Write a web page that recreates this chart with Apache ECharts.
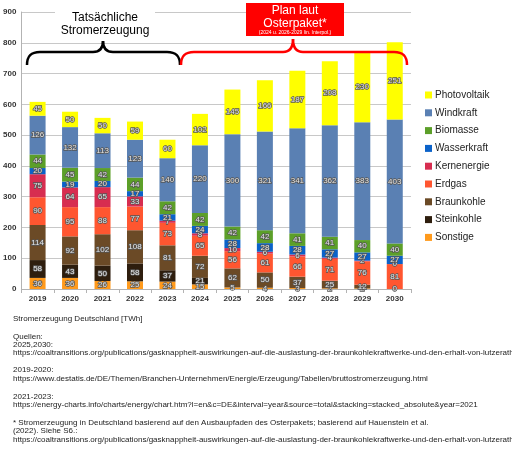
<!DOCTYPE html>
<html>
<head>
<meta charset="utf-8">
<script src="https://cdn.jsdelivr.net/npm/echarts@6/dist/echarts.min.js"></script>
<style>
html,body{margin:0;padding:0;background:#fff;}
#chart{width:512px;height:449px;}
</style>
</head>
<body>
<div id="chart"></div>
<script>
var years = ['2019','2020','2021','2022','2023','2024','2025','2026','2027','2028','2029','2030'];
var sonstige     = [36, 36, 26, 25, 24, 15, 5, 4, 3, 2, 2, 0];
var steinkohle   = [58, 43, 50, 58, 37, 21, null, null, null, null, null, null];
var braunkohle   = [114, 92, 102, 108, 81, 72, 62, 50, 37, 25, 12, null];
var erdgas       = [90, 95, 88, 77, 73, 65, 56, 61, 66, 71, 76, 81];
var kernenergie  = [75, 64, 65, 33, 7, 8, 10, 6, 6, 4, 2, 0];
var wasserkraft  = [20, 19, 20, 17, 21, 24, 28, 28, 28, 27, 27, 27];
var biomasse     = [44, 45, 42, 44, 42, 42, 42, 42, 41, 41, 40, 40];
var windkraft    = [126, 132, 113, 123, 140, 220, 300, 321, 341, 362, 383, 403];
var photovoltaik = [45, 50, 50, 59, 60, 102, 145, 166, 187, 208, 230, 251];
var yTicks = {min: 0, max: 900, interval: 100};

var seriesDefs = [
  {name: 'Sonstige', data: sonstige, color: '#ff9a1c'},
  {name: 'Steinkohle', data: steinkohle, color: '#2e1e0e'},
  {name: 'Braunkohle', data: braunkohle, color: '#6b4a26'},
  {name: 'Erdgas', data: erdgas, color: '#ff5630'},
  {name: 'Kernenergie', data: kernenergie, color: '#d72d50'},
  {name: 'Wasserkraft', data: wasserkraft, color: '#0b62c9'},
  {name: 'Biomasse', data: biomasse, color: '#5c9f29'},
  {name: 'Windkraft', data: windkraft, color: '#5a80b3'},
  {name: 'Photovoltaik', data: photovoltaik, color: '#ffff00'}
];

var FONT = '"Liberation Sans", Arial, sans-serif';

var series = seriesDefs.map(function (s) {
  return {
    name: s.name,
    type: 'bar',
    stack: 'total',
    barWidth: 16,
    data: s.data,
    itemStyle: {color: s.color},
    label: {
      show: true,
      position: 'inside',
      fontSize: 8,
      fontFamily: FONT,
      color: '#e6e6e6',
      textBorderColor: '#555555',
      textBorderWidth: 1.5,
      formatter: function (p) { return p.value == null ? '' : String(p.value); }
    },
    emphasis: {disabled: true}
  };
});

var footLines = [
  ['Stromerzeugung Deutschland [TWh]', 319],
  ['Quellen:', 337],
  ['2025,2030:', 345],
  ['https://coaltransitions.org/publications/gasknappheit-auswirkungen-auf-die-auslastung-der-braunkohlekraftwerke-und-den-erhalt-von-lutzerath', 353],
  ['2019-2020:', 370],
  ['https://www.destatis.de/DE/Themen/Branchen-Unternehmen/Energie/Erzeugung/Tabellen/bruttostromerzeugung.html', 379],
  ['2021-2023:', 397],
  ['https://energy-charts.info/charts/energy/chart.htm?l=en&c=DE&interval=year&source=total&stacking=stacked_absolute&year=2021', 405],
  ['* Stromerzeugung in Deutschland basierend auf den Ausbaupfaden des Osterpakets; basierend auf Hauenstein et al.', 423],
  ['(2022). Siehe S6.:', 431],
  ['https://coaltransitions.org/publications/gasknappheit-auswirkungen-auf-die-auslastung-der-braunkohlekraftwerke-und-den-erhalt-von-lutzerath', 440]
];

var graphics = [];
function brace(x0, x1, xp, yBase, yLine, yPeak, color) {
  var st = {fill: null, stroke: color, lineWidth: 2.5};
  var r = 13;
  graphics.push({type: 'bezierCurve', z: 52, shape: {x1: x0, y1: yBase, x2: x0 + r, y2: yLine, cpx1: x0, cpy1: yLine + 4, cpx2: x0 + 4, cpy2: yLine}, style: st});
  graphics.push({type: 'line', z: 52, shape: {x1: x0 + r, y1: yLine, x2: xp - 10, y2: yLine}, style: st});
  graphics.push({type: 'bezierCurve', z: 52, shape: {x1: xp - 10, y1: yLine, x2: xp, y2: yPeak, cpx1: xp - 3, cpy1: yLine, cpx2: xp, cpy2: yLine - 4}, style: st});
  graphics.push({type: 'bezierCurve', z: 52, shape: {x1: xp, y1: yPeak, x2: xp + 10, y2: yLine, cpx1: xp, cpy1: yLine - 4, cpx2: xp + 3, cpy2: yLine}, style: st});
  graphics.push({type: 'line', z: 52, shape: {x1: xp + 10, y1: yLine, x2: x1 - r, y2: yLine}, style: st});
  graphics.push({type: 'bezierCurve', z: 52, shape: {x1: x1 - r, y1: yLine, x2: x1, y2: yBase, cpx1: x1 - 4, cpy1: yLine, cpx2: x1, cpy2: yLine + 4}, style: st});
}
// white box behind the left annotation
graphics.push({type: 'rect', z: 50, shape: {x: 55, y: 2, width: 100, height: 36}, style: {fill: '#fff'}});
graphics.push({type: 'text', z: 51, style: {text: 'Tatsächliche', x: 105, y: 18, fill: '#000', font: '12px ' + FONT, align: 'center', verticalAlign: 'middle'}});
graphics.push({type: 'text', z: 51, style: {text: 'Stromerzeugung', x: 105, y: 31, fill: '#000', font: '12px ' + FONT, align: 'center', verticalAlign: 'middle'}});
brace(27, 180, 103, 65, 52, 41, '#000');
brace(181, 407, 293, 65, 52, 39, '#ff0000');
// red box
graphics.push({type: 'rect', z: 50, shape: {x: 246, y: 3, width: 98, height: 33}, style: {fill: '#ff0000'}});
graphics.push({type: 'text', z: 51, style: {text: 'Plan laut', x: 295, y: 11, fill: '#fff', font: '12px ' + FONT, align: 'center', verticalAlign: 'middle'}});
graphics.push({type: 'text', z: 51, style: {text: 'Osterpaket*', x: 295, y: 24, fill: '#fff', font: '12px ' + FONT, align: 'center', verticalAlign: 'middle'}});
graphics.push({type: 'text', z: 51, style: {text: '(2024 u. 2026-2029 lin. Interpol.)', x: 295, y: 32.5, fill: '#fff', font: '5px ' + FONT, align: 'center', verticalAlign: 'middle'}});
footLines.forEach(function (l) {
  graphics.push({type: 'text', z: 51, style: {text: l[0], x: 13, y: l[1], fill: '#222', font: '8px ' + FONT, align: 'left', verticalAlign: 'middle'}});
});

var chart = echarts.init(document.getElementById('chart'), null, {renderer: 'canvas'});
chart.setOption({
  animation: false,
  backgroundColor: '#fff',
  grid: {left: 21, right: 101, top: 12, bottom: 160, containLabel: false},
  legend: {
    orient: 'vertical',
    left: 425,
    top: 90,
    padding: 0,
    itemWidth: 7,
    itemHeight: 7,
    itemGap: 7.8,
    icon: 'rect',
    textStyle: {fontSize: 10, fontFamily: FONT, color: '#222', lineHeight: 10, padding: [0, 0, 0, -2]},
    data: seriesDefs.map(function (s) { return s.name; }).reverse()
  },
  xAxis: {
    type: 'category',
    data: years,
    axisLine: {lineStyle: {color: '#b3b3b3'}},
    axisTick: {show: true, length: 4, lineStyle: {color: '#b3b3b3'}},
    axisLabel: {fontSize: 8, fontWeight: 'bold', color: '#333', fontFamily: FONT, margin: 6}
  },
  yAxis: {
    type: 'value',
    min: yTicks.min,
    max: yTicks.max,
    interval: yTicks.interval,
    axisLine: {show: true, lineStyle: {color: '#b3b3b3'}},
    axisTick: {show: false},
    splitLine: {lineStyle: {color: '#c8c8c8'}},
    axisLabel: {fontSize: 8, fontWeight: 'bold', color: '#333', fontFamily: FONT, margin: 5}
  },
  series: series,
  graphic: graphics
});
</script>
</body>
</html>
